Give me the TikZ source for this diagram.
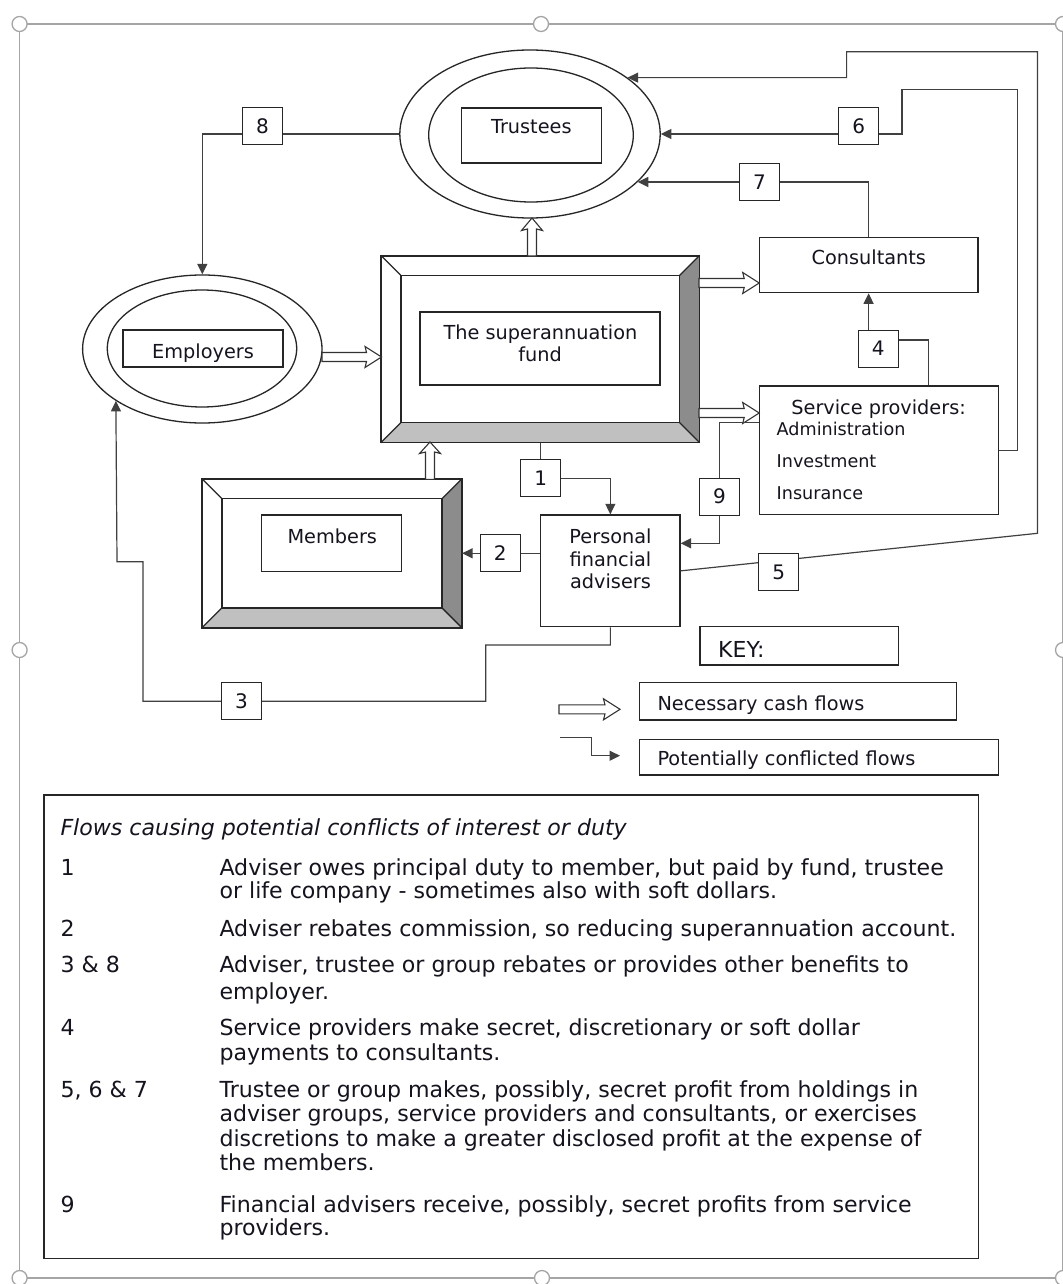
\documentclass[tikz,border=0pt]{standalone}
\usepackage{fontspec}
\setmainfont{DejaVu Sans}
\usetikzlibrary{arrows.meta,shapes.geometric}
\definecolor{ink}{RGB}{20,20,30}
\definecolor{handle}{RGB}{165,165,165}
\definecolor{bevR}{RGB}{140,140,140}
\definecolor{bevB}{RGB}{192,192,192}
\newcommand{\labfont}{\fontsize{19.3}{23}\selectfont}
\newcommand{\spfont}{\fontsize{17.6}{21}\selectfont}
\newcommand{\legfont}{\fontsize{22.1}{24}\selectfont}
\newcommand{\numfnt}{\fontsize{20}{24}\selectfont}
\newcommand{\keyfnt}{\fontsize{22}{24}\selectfont}
\tikzset{
  bx/.style={draw=black!85, line width=1.3pt, fill=white, inner sep=0pt, rectangle},
  ell/.style={ellipse, draw=black!85, line width=1.3pt, inner sep=0pt},
  lab/.style={text=ink, font=\labfont, inner sep=0pt},
  splab/.style={text=ink, font=\spfont, inner sep=0pt, anchor=base west},
  leg/.style={text=ink, font=\legfont, inner sep=0pt, anchor=base west},
  numbox/.style={bx, minimum width=40pt, minimum height=37pt, font=\numfnt, text=ink},
  conf/.style={draw=black!75, line width=1.2pt},
  tip/.style={-{Triangle[length=10.5pt,width=10pt]}},
  cashline/.style={draw=black!80, line width=1.1pt, fill=white, line join=miter},
  bevline/.style={draw=black!85, line width=1.3pt},
  pics/cash/.style args={#1/#2}{code={\draw[cashline] (0,-4.5) -- ({#1-#2},-4.5) -- ({#1-#2-1.5},-10.5) -- (#1,0) -- ({#1-#2-1.5},10.5) -- ({#1-#2},4.5) -- (0,4.5) -- cycle;}},
}
\newcommand{\bevelbox}[1]{%
  \fill[bevR] (#1.north east) -- (#1.south east) -- ([shift={(-20,-20)}]#1.south east) -- ([shift={(-20,20)}]#1.north east) -- cycle;
  \fill[bevB] (#1.south west) -- (#1.south east) -- ([shift={(-20,-20)}]#1.south east) -- ([shift={(20,-20)}]#1.south west) -- cycle;
  \draw[bevline] (#1.north west) rectangle (#1.south east);
  \draw[bevline] ([shift={(20,20)}]#1.north west) rectangle ([shift={(-20,-20)}]#1.south east);
  \draw[bevline] (#1.north west) -- ([shift={(20,20)}]#1.north west);
  \draw[bevline] (#1.north east) -- ([shift={(-20,20)}]#1.north east);
  \draw[bevline] (#1.south west) -- ([shift={(20,-20)}]#1.south west);
  \draw[bevline] (#1.south east) -- ([shift={(-20,-20)}]#1.south east);
}
\begin{document}
\begin{tikzpicture}[x=1pt,y=-1pt]
\useasboundingbox (0,0) rectangle (1062,1284);
\fill[white] (0,0) rectangle (1062,1284);
% selection frame with handles
\draw[handle, line width=1.5pt] (19.6,24) rectangle (1063,1278);
\foreach \hx/\hy in {19.6/24, 541/24, 1063/24, 19.6/650, 1063/650, 19.6/1278, 542/1278, 1063/1278}
  \draw[handle, fill=white, line width=1.3pt] (\hx,\hy) circle[radius=7.5];

% Trustees
\node[ell, minimum width=260.4pt, minimum height=168pt] (tO) at (530,134) {};
\node[ell, minimum width=204.6pt, minimum height=134pt] (tI) at (531,135) {};
\node[bx, minimum width=139.8pt, minimum height=55pt] (tB) at (531.3,135.5) {};
\node[lab, anchor=base] (tT) at (531.3,133.5) {Trustees};

% Employers
\node[ell, minimum width=239.4pt, minimum height=148pt] (eO) at (202.3,349) {};
\node[ell, minimum width=189.4pt, minimum height=117pt] (eI) at (202,348.5) {};
\node[bx, minimum width=160pt, minimum height=37pt] (eB) at (203,348.5) {};
\node[lab, anchor=base] (eT) at (203,358.5) {Employers};

% Fund
\node[bx, minimum width=317.5pt, minimum height=186pt] (fund) at (540.25,349) {};
\bevelbox{fund}
\node[bx, minimum width=240pt, minimum height=73pt] (fundB) at (540,348.5) {};
\node[lab, anchor=base] (fundT1) at (540.5,339.5) {The superannuation};
\node[lab, anchor=base] (fundT2) at (540,361.5) {fund};

% Members
\node[bx, minimum width=258.9pt, minimum height=148pt] (mem) at (331.95,553.3) {};
\bevelbox{mem}
\node[bx, minimum width=139.5pt, minimum height=56.7pt] (memB) at (331.45,543.35) {};
\node[lab, anchor=base] (memT) at (332.3,543) {Members};

% Consultants
\node[bx, minimum width=218.8pt, minimum height=55.4pt] (cons) at (868.6,265) {};
\node[lab, anchor=base] (consT) at (868.8,264.5) {Consultants};

% Service providers
\node[bx, minimum width=239.5pt, minimum height=128.3pt] (sp) at (878.95,450.15) {};
\node[lab, anchor=base] (spT) at (878.6,414) {Service providers:};
\node[splab] (spA) at (776.5,435) {Administration};
\node[splab] (spI) at (776.5,467) {Investment};
\node[splab] (spN) at (776.5,499) {Insurance};

% Personal financial advisers
\node[bx, minimum width=139.3pt, minimum height=111.7pt] (pfa) at (610.35,570.85) {};
\node[lab, anchor=base] (pfaT1) at (610.5,543) {Personal};
\node[lab, anchor=base] (pfaT2) at (610.5,566) {financial};
\node[lab, anchor=base] (pfaT3) at (610.5,588.5) {advisers};

% Key
\node[bx, minimum width=198.3pt, minimum height=38.3pt] (key) at (799.15,645.85) {};
\node[text=ink, font=\keyfnt, anchor=base west, inner sep=0pt] (keyT) at (718,657) {KEY:};
\node[bx, minimum width=317.4pt, minimum height=37.3pt] (necB) at (798,701.35) {};
\node[lab, anchor=base west] (necT) at (657.3,710) {Necessary cash flows};
\node[bx, minimum width=359pt, minimum height=35.7pt] (potB) at (818.8,757.15) {};
\node[lab, anchor=base west] (potT) at (657.3,765) {Potentially conflicted flows};

% necessary cash flows (hollow arrows)
\pic at (322,357) {cash=59.5/15};
\pic at (699,283) {cash=60.2/15};
\pic at (699,413) {cash=60.2/15};
\pic[rotate=90] at (430,479.3) {cash=37.3/10};
\pic[rotate=90] at (532,256) {cash=38/11};
\pic at (559,709.3) {cash=61/15};

% potentially conflicted flows
\coordinate (c6a) at (1017.8,89.3);
\coordinate (c6b) at (902,134);
\coordinate (c5a) at (1037.5,533.3);
\coordinate (c5b) at (846.6,51.7);
\coordinate (c9a) at (719.4,422.7);
\coordinate (c9b) at (719.4,543.3);
\coordinate (c4a) at (928.6,340);
\coordinate (p1) at (540.75,478.3);
\coordinate (c3a) at (485.7,645);
\coordinate (c3b) at (142.9,701.2);
\coordinate (c3c) at (117,561.7);
\coordinate (k1) at (560,737.3);
\coordinate (k2) at (591.7,755.7);
\coordinate (k3) at (620,755.7);

\draw[conf,tip] (tO.west) -| (eO.north);
\draw[conf,tip] (sp.east) -| (c6a) -| (c6b) -- (tO.east);
\draw[conf,tip] (cons.north) |- (tO.-24);
\draw[conf,tip] (pfa.east) -- (c5a) |- (c5b) |- (tO.30.6);
\draw[conf,tip] (c9a -| sp.west) -- (c9a) -- (c9b) -- (c9b -| pfa.east);
\draw[conf,tip] (c4a |- sp.north) -- (c4a) -| (cons.south);
\draw[conf,tip] (fund.south) -- (fund.south |- p1) -| (pfa.north);
\draw[conf,tip] (pfa.west |- mem.east) -- (mem.east);
\draw[conf,tip] (pfa.south) |- (c3a) |- (c3b) |- (c3c) -- (eO.211.3);
\draw[conf,tip] (k1) -| (k2) -- (k3);

% number boxes
\node[numbox] (n8) at (262.4,126) {8};
\node[numbox] (n6) at (858.6,125.9) {6};
\node[numbox] (n7) at (759.6,182) {7};
\node[numbox] (n4) at (878.3,348.7) {4};
\node[numbox] (n9) at (719.6,496.7) {9};
\node[numbox] (n1) at (540.75,478.3) {1};
\node[numbox] (n2) at (500.15,553) {2};
\node[numbox] (n5) at (778.75,572) {5};
\node[numbox] (n3) at (241.5,701.2) {3};

% legend table
\node[bx, minimum width=934.5pt, minimum height=463.3pt] (legbox) at (511.25,1026.65) {};
\node[leg, font=\legfont\itshape] (lt) at (60.3,835) {Flows causing potential conflicts of interest or duty};
\node[leg] (l1n) at (60.3,875) {1};
\node[leg] (l1a) at (219.3,875) {Adviser owes principal duty to member, but paid by fund, trustee};
\node[leg] (l1b) at (219.3,898.5) {or life company - sometimes also with soft dollars.};
\node[leg] (l2n) at (60.3,936) {2};
\node[leg] (l2a) at (219.3,936) {Adviser rebates commission, so reducing superannuation account.};
\node[leg] (l3n) at (60.3,972) {3 \& 8};
\node[leg] (l3a) at (219.3,972) {Adviser, trustee or group rebates or provides other benefits to};
\node[leg] (l3b) at (219.3,999.5) {employer.};
\node[leg] (l4n) at (60.3,1035) {4};
\node[leg] (l4a) at (219.3,1035) {Service providers make secret, discretionary or soft dollar};
\node[leg] (l4b) at (219.3,1060) {payments to consultants.};
\node[leg] (l5n) at (60.3,1097.5) {5, 6 \& 7};
\node[leg] (l5a) at (219.3,1097.5) {Trustee or group makes, possibly, secret profit from holdings in};
\node[leg] (l5b) at (219.3,1121.8) {adviser groups, service providers and consultants, or exercises};
\node[leg] (l5c) at (219.3,1146.1) {discretions to make a greater disclosed profit at the expense of};
\node[leg] (l5d) at (219.3,1170.3) {the members.};
\node[leg] (l9n) at (60.3,1212) {9};
\node[leg] (l9a) at (219.3,1212) {Financial advisers receive, possibly, secret profits from service};
\node[leg] (l9b) at (219.3,1235) {providers.};
\end{tikzpicture}
\end{document}
